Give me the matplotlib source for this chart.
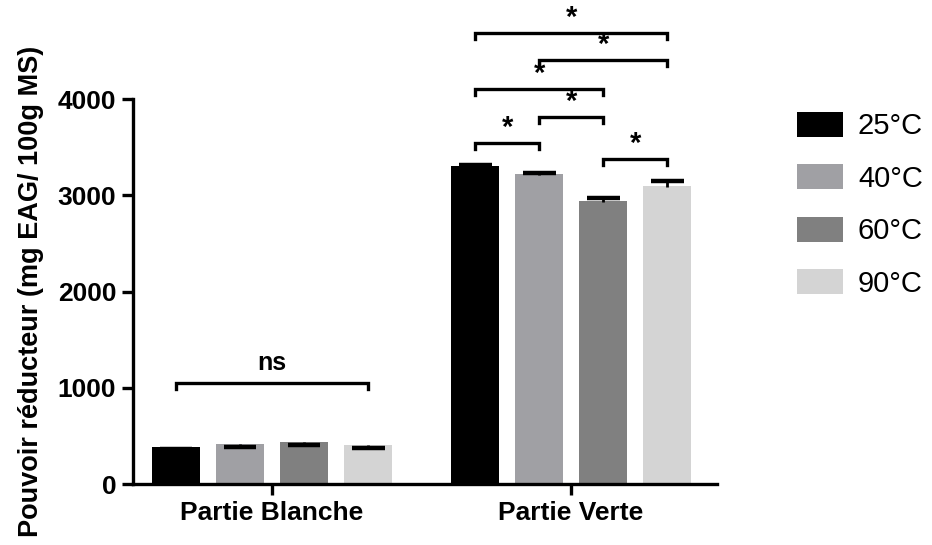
import matplotlib
matplotlib.use("Agg")
import matplotlib.pyplot as plt
from matplotlib.patches import Patch
import numpy as np

plt.rcParams['font.family'] = ['Liberation Sans', 'DejaVu Sans']

# Data
categories = ["Partie Blanche", "Partie Verte"]
temperatures = ["25°C", "40°C", "60°C", "90°C"]
colors = ["#000000", "#a0a0a4", "#808080", "#d4d4d4"]
blanche = [380, 412, 433, 401]
blanche_err = [20, 28, 28, 24]      # drawn below the bar top
verte = [3304, 3218, 2943, 3099]
verte_err = [12, 16, 25, 49]        # drawn above the bar top

# Significance brackets: (category index, bar i, bar j, height, label)
brackets = [
    (0, 0, 3, 1050, "ns"),
    (1, 0, 1, 3543, "*"),
    (1, 2, 3, 3377, "*"),
    (1, 1, 2, 3813, "*"),
    (1, 0, 2, 4104, "*"),
    (1, 1, 3, 4405, "*"),
    (1, 0, 3, 4686, "*"),
]

fig = plt.figure(figsize=(9.32, 5.45), dpi=100)
ax = fig.add_axes([133 / 932, 61 / 545, 584 / 932, 385 / 545])

step = 64 / 299
width = 48 / 299
offsets = (np.arange(4) - 1.5) * step
centers = np.arange(len(categories))

values = [blanche, verte]
errors = [blanche_err, verte_err]

for k in range(4):
    xs = centers + offsets[k]
    ys = [values[c][k] for c in range(2)]
    ax.bar(xs, ys, width=width, color=colors[k], edgecolor='none', zorder=2,
           label=temperatures[k])

cap_half = 0.055
for c in range(2):
    for k in range(4):
        x = centers[c] + offsets[k]
        v = values[c][k]
        e = errors[c][k]
        if c == 0:
            cap = v - e
            ax.vlines(x, cap, v, color='black', lw=2, zorder=3)
        else:
            cap = v + e
            ax.vlines(x, v - 12, cap, color='black', lw=2, zorder=3)
        ax.hlines(cap, x - cap_half, x + cap_half, color='black', lw=3.2, zorder=3)

tick_len = 65
for c, i, j, h, lab in brackets:
    x1 = centers[c] + offsets[i]
    x2 = centers[c] + offsets[j]
    ax.plot([x1, x1, x2, x2], [h - tick_len, h, h, h - tick_len], color='black',
            lw=2.4, clip_on=False, solid_joinstyle='miter', zorder=4)
    if lab == "*":
        ax.text((x1 + x2) / 2, h + 15, lab, ha='center', va='bottom',
                fontsize=21, fontweight='bold', clip_on=False)
    else:
        ax.text((x1 + x2) / 2, h + 80, lab, ha='center', va='bottom',
                fontsize=18, fontweight='bold', clip_on=False)

ax.set_xlim(-0.465, 1.488)
ax.set_ylim(0, 4000)
ax.set_yticks([0, 1000, 2000, 3000, 4000])
ax.set_xticks(centers)
ax.set_xticklabels(categories)
for lbl in ax.get_xticklabels() + ax.get_yticklabels():
    lbl.set_fontweight('bold')
    lbl.set_fontsize(19)

for s in ['top', 'right']:
    ax.spines[s].set_visible(False)
for s in ['left', 'bottom']:
    ax.spines[s].set_linewidth(2.4)
ax.tick_params(axis='both', length=8, width=2.4, direction='out', pad=4)

ax.set_ylabel("Pouvoir réducteur (mg EAG/ 100g MS)", fontsize=19.5,
              fontweight='bold')
ax.yaxis.set_label_coords(-0.152, 0.5)

handles = [Patch(facecolor=colors[k], edgecolor='none') for k in range(4)]
fig.legend(handles, temperatures, loc='upper left',
           bbox_to_anchor=(785 / 932, 1 - 100 / 545),
           frameon=False, fontsize=21, handlelength=1.6, handleheight=0.95,
           labelspacing=0.82, handletextpad=0.5, borderaxespad=0)

fig.savefig("out.png", dpi=100)
